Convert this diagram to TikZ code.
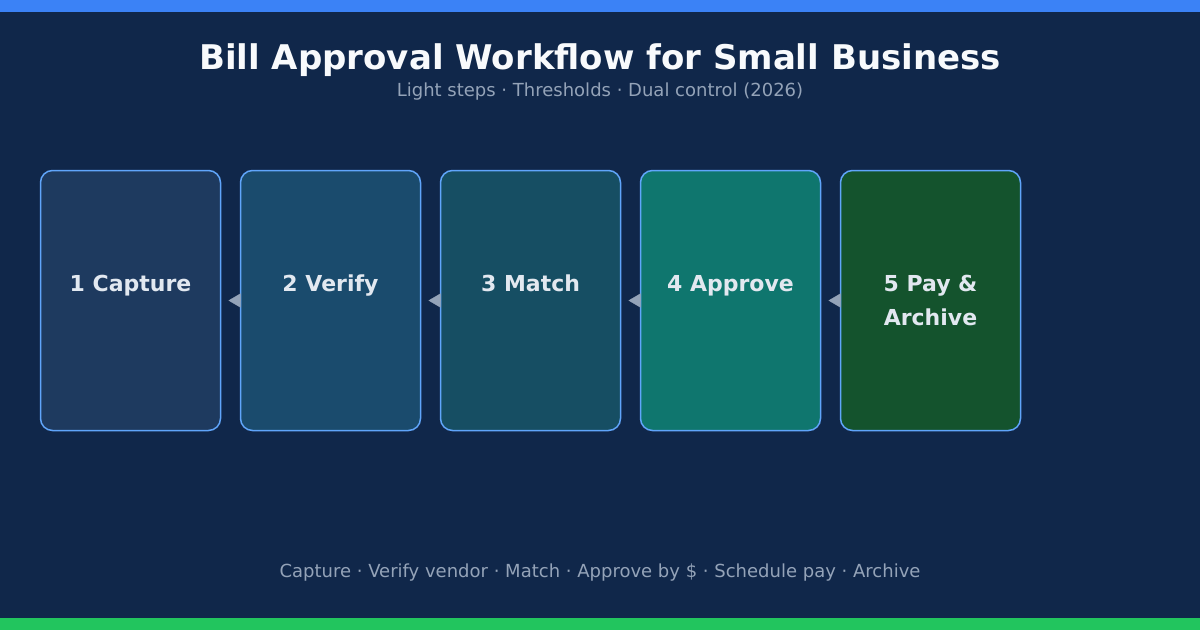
\documentclass[tikz,border=0pt]{standalone}
\usepackage{fontspec}
\setmainfont{DejaVu Sans}
\usepackage{tikz}
\usetikzlibrary{positioning, arrows.meta}

\definecolor{bgnavy}{HTML}{10274A}
\definecolor{topbar}{HTML}{3B82F6}
\definecolor{botbar}{HTML}{22C55E}
\definecolor{titlewhite}{HTML}{F8FAFC}
\definecolor{subgray}{HTML}{94A3B8}
\definecolor{labelwhite}{HTML}{E2E8F0}
\definecolor{edgeblue}{HTML}{60A5FA}
\definecolor{fillcapture}{HTML}{1E3A5F}
\definecolor{fillverify}{HTML}{1A4B6D}
\definecolor{fillmatch}{HTML}{164E63}
\definecolor{fillapprove}{HTML}{0F766E}
\definecolor{fillpay}{HTML}{14532D}

\begin{document}
\begin{tikzpicture}[
    x=1pt, y=-1pt,
    stepbox/.style={draw=edgeblue, line width=1.5pt, rounded corners=12pt,
        minimum width=180pt, minimum height=260pt, inner sep=0pt, outer sep=0pt},
    steplabel/.style={anchor=base, inner sep=0pt, text=labelwhite, align=center,
        font=\bfseries\fontsize{22}{34}\selectfont},
    flowarrow/.style={-{Triangle[length=12pt, width=14pt]}, subgray, line width=0.4pt,
        shorten >=8pt}
]

    % Background and bars
    \fill[bgnavy] (0, 0) rectangle (1200, 630);
    \useasboundingbox (0, 0) rectangle (1200, 630);
    \fill[topbar] (0, 0) rectangle (1200, 12);
    \fill[botbar] (0, 618) rectangle (1200, 630);

    % Title and subtitle
    \node[anchor=base, text=titlewhite, font=\bfseries\fontsize{34}{40}\selectfont]
        (title) at (600, 69) {Bill Approval Workflow for Small Business};
    \node[anchor=base, text=subgray, font=\fontsize{18}{22}\selectfont]
        (subtitle) at (600, 96) {Light steps · Thresholds · Dual control (2026)};

    % Step boxes
    \node[stepbox, fill=fillcapture] (capture) at (130.5, 300.5) {};
    \node[stepbox, fill=fillverify] (verify) at (330.5, 300.5) {};
    \node[stepbox, fill=fillmatch] (match) at (530.5, 300.5) {};
    \node[stepbox, fill=fillapprove] (approve) at (730.5, 300.5) {};
    \node[stepbox, fill=fillpay] (pay) at (930.5, 300.5) {};

    % Step labels (two-line label sits on its last line)
    \node[steplabel] (capturetext) at (130.5, 291) {1 Capture};
    \node[steplabel] (verifytext) at (330.5, 291) {2 Verify};
    \node[steplabel] (matchtext) at (530.5, 291) {3 Match};
    \node[steplabel] (approvetext) at (730.5, 291) {4 Approve};
    \node[steplabel] (paytext) at (930.5, 325) {5 Pay \&\\Archive};

    % Connectors
    \draw[flowarrow] (verify.west) -- (capture.east);
    \draw[flowarrow] (match.west) -- (verify.east);
    \draw[flowarrow] (approve.west) -- (match.east);
    \draw[flowarrow] (pay.west) -- (approve.east);

    % Footer
    \node[anchor=base, text=subgray, font=\fontsize{18}{22}\selectfont]
        (footer) at (600, 577) {Capture · Verify vendor · Match · Approve by \$ · Schedule pay · Archive};

\end{tikzpicture}
\end{document}
